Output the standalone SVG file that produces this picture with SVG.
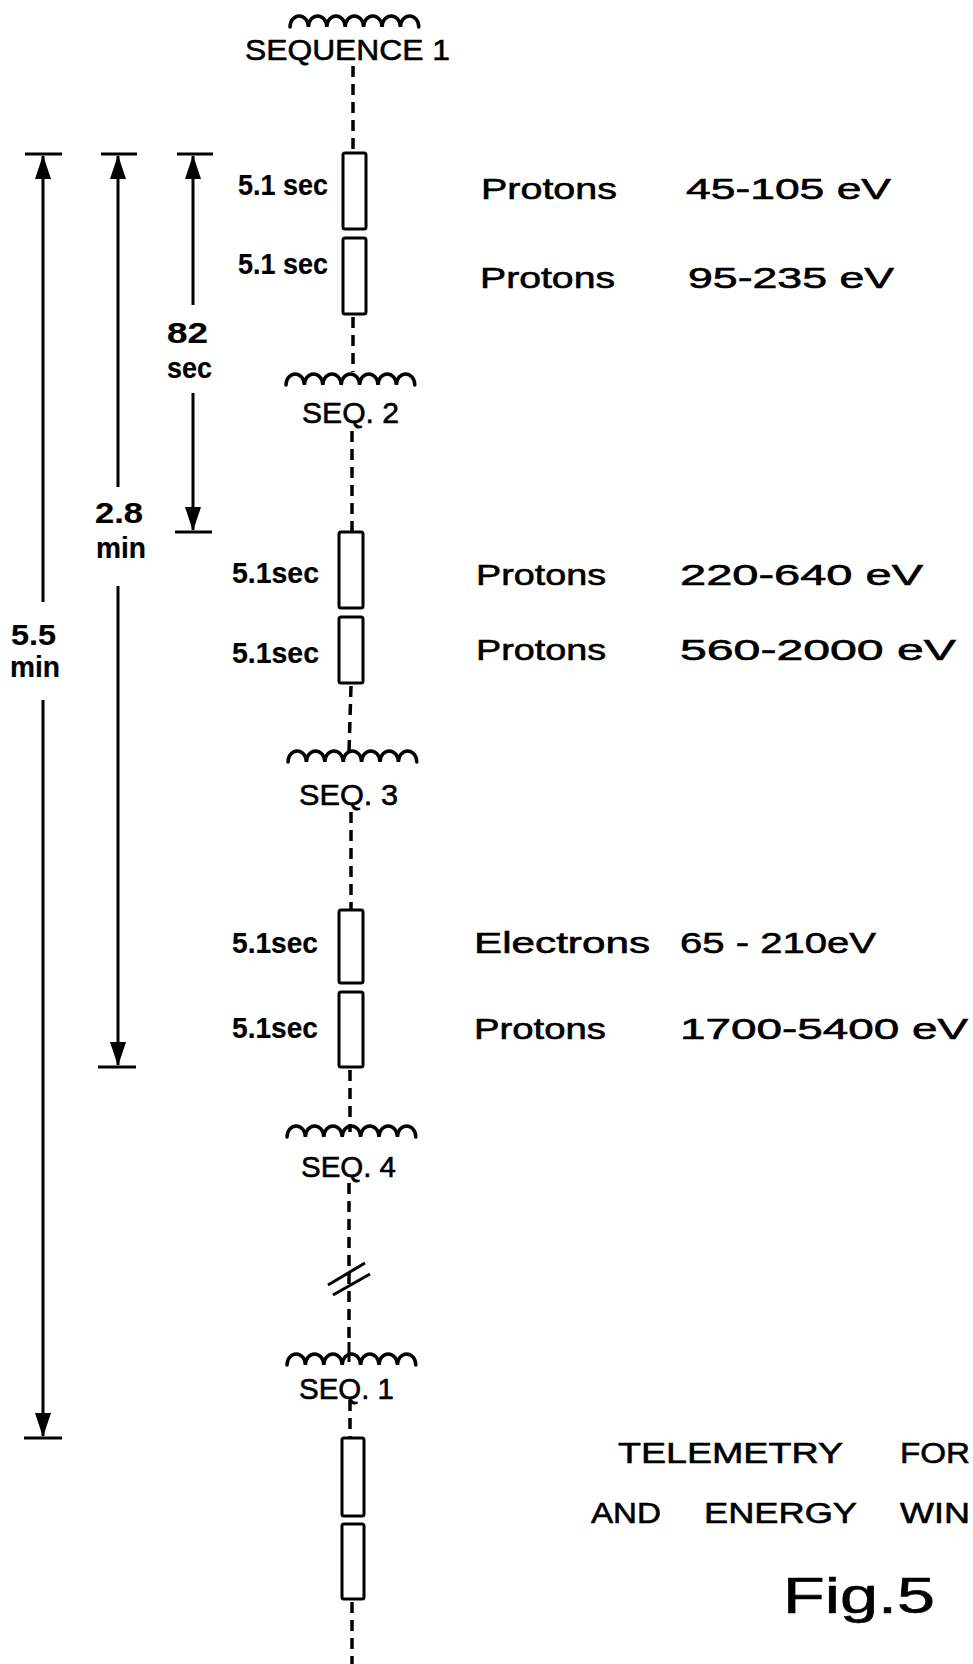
<svg xmlns="http://www.w3.org/2000/svg" width="973" height="1664" viewBox="0 0 973 1664">
<style>
text{font-family:"Liberation Sans",Arial,sans-serif;fill:#000;stroke:#000;stroke-width:0.6}
.t{font-size:30px}
.lb{font-size:29px;font-weight:bold;stroke-width:0.2}
.fig{font-size:50px;stroke-width:0.6}
.dash{stroke:#000;stroke-width:3.5;stroke-dasharray:11 7;fill:none}
.ln{stroke:#000;stroke-width:3;fill:none}
.box{fill:#fff;stroke:#000;stroke-width:3}
.wave{fill:none;stroke:#000;stroke-width:3.5;stroke-linecap:round}
.ah{fill:#000;stroke:none}
</style>
<rect width="973" height="1664" fill="#fff"/>

<g id="connectors">
  <path class="dash" d="M353,66V152"/>
  <path class="dash" d="M353,317V372"/>
  <path class="dash" d="M352,431V531"/>
  <path class="dash" d="M351,686L349,752"/>
  <path class="dash" d="M351,812V909"/>
  <path class="dash" d="M350,1070V1132"/>
  <path class="dash" d="M349,1183V1345"/>
  <path class="ln" d="M349,1342V1362"/>
  <path class="dash" d="M350,1400V1437"/>
  <path class="dash" d="M352,1602V1664"/>
  <g id="break">
    <path class="ln" d="M328,1285L365,1263"/>
    <path class="ln" d="M333,1295L370,1274"/>
  </g>
  <g id="dim-5-5min">
    <path class="ln" d="M25,154H62M43,156V602M43,700V1436M24,1438H62"/>
    <polygon class="ah" points="43,155 35,179 51,179"/>
    <polygon class="ah" points="43,1437 35,1413 51,1413"/>
  </g>
  <g id="dim-2-8min">
    <path class="ln" d="M101,154H137M118,156V487M118,586V1065M98,1067H136"/>
    <polygon class="ah" points="118,155 110,179 126,179"/>
    <polygon class="ah" points="118,1066 110,1042 126,1042"/>
  </g>
  <g id="dim-82sec">
    <path class="ln" d="M177,154H213M193,156V305M193,393V530M175,532H212"/>
    <polygon class="ah" points="193,155 185,179 201,179"/>
    <polygon class="ah" points="193,531 185,507 201,507"/>
  </g>
</g>

<g id="seq1-top">
  <path class="wave" d="M290,27a9.2,11 0 0 1 18.4,0a9.2,11 0 0 1 18.4,0a9.2,11 0 0 1 18.4,0a9.2,11 0 0 1 18.4,0a9.2,11 0 0 1 18.4,0a9.2,11 0 0 1 18.4,0a9.2,11 0 0 1 18.4,0"/>
  <text class="t" x="245" y="60" textLength="205" lengthAdjust="spacingAndGlyphs">SEQUENCE  1</text>
</g>
<g id="seq2">
  <path class="wave" d="M286,385a9.2,11 0 0 1 18.4,0a9.2,11 0 0 1 18.4,0a9.2,11 0 0 1 18.4,0a9.2,11 0 0 1 18.4,0a9.2,11 0 0 1 18.4,0a9.2,11 0 0 1 18.4,0a9.2,11 0 0 1 18.4,0"/>
  <text class="t" x="302" y="423" textLength="97" lengthAdjust="spacingAndGlyphs">SEQ. 2</text>
</g>
<g id="seq3">
  <path class="wave" d="M288,762a9.2,11 0 0 1 18.4,0a9.2,11 0 0 1 18.4,0a9.2,11 0 0 1 18.4,0a9.2,11 0 0 1 18.4,0a9.2,11 0 0 1 18.4,0a9.2,11 0 0 1 18.4,0a9.2,11 0 0 1 18.4,0"/>
  <text class="t" x="299" y="805" textLength="99" lengthAdjust="spacingAndGlyphs">SEQ. 3</text>
</g>
<g id="seq4">
  <path class="wave" d="M287,1137a9.2,11 0 0 1 18.4,0a9.2,11 0 0 1 18.4,0a9.2,11 0 0 1 18.4,0a9.2,11 0 0 1 18.4,0a9.2,11 0 0 1 18.4,0a9.2,11 0 0 1 18.4,0a9.2,11 0 0 1 18.4,0"/>
  <text class="t" x="301" y="1177" textLength="95" lengthAdjust="spacingAndGlyphs">SEQ. 4</text>
</g>
<g id="seq1-bottom">
  <path class="wave" d="M287,1365a9.2,11 0 0 1 18.4,0a9.2,11 0 0 1 18.4,0a9.2,11 0 0 1 18.4,0a9.2,11 0 0 1 18.4,0a9.2,11 0 0 1 18.4,0a9.2,11 0 0 1 18.4,0a9.2,11 0 0 1 18.4,0"/>
  <text class="t" x="299" y="1399" textLength="95" lengthAdjust="spacingAndGlyphs">SEQ. 1</text>
</g>

<g id="slot1">
  <rect class="box" x="343" y="153" width="23" height="76" rx="2"/>
  <text class="lb" x="238" y="195" textLength="90" lengthAdjust="spacingAndGlyphs">5.1 sec</text>
  <text class="t" x="481" y="199" textLength="136" lengthAdjust="spacingAndGlyphs">Protons</text>
  <text class="t" x="686" y="199" textLength="205" lengthAdjust="spacingAndGlyphs">45-105 eV</text>
</g>
<g id="slot2">
  <rect class="box" x="343" y="238" width="23" height="76" rx="2"/>
  <text class="lb" x="238" y="274" textLength="90" lengthAdjust="spacingAndGlyphs">5.1 sec</text>
  <text class="t" x="480" y="288" textLength="135" lengthAdjust="spacingAndGlyphs">Protons</text>
  <text class="t" x="688" y="288" textLength="206" lengthAdjust="spacingAndGlyphs">95-235 eV</text>
</g>
<g id="slot3">
  <rect class="box" x="339" y="532" width="24" height="76" rx="2"/>
  <text class="lb" x="232" y="583" textLength="87" lengthAdjust="spacingAndGlyphs">5.1sec</text>
  <text class="t" x="476" y="585" textLength="130" lengthAdjust="spacingAndGlyphs">Protons</text>
  <text class="t" x="680" y="585" textLength="243" lengthAdjust="spacingAndGlyphs">220-640 eV</text>
</g>
<g id="slot4">
  <rect class="box" x="339" y="617" width="24" height="66" rx="2"/>
  <text class="lb" x="232" y="663" textLength="87" lengthAdjust="spacingAndGlyphs">5.1sec</text>
  <text class="t" x="476" y="660" textLength="130" lengthAdjust="spacingAndGlyphs">Protons</text>
  <text class="t" x="680" y="660" textLength="276" lengthAdjust="spacingAndGlyphs">560-2000 eV</text>
</g>
<g id="slot5">
  <rect class="box" x="339" y="910" width="24" height="73" rx="2"/>
  <text class="lb" x="232" y="953" textLength="86" lengthAdjust="spacingAndGlyphs">5.1sec</text>
  <text class="t" x="474" y="953" textLength="176" lengthAdjust="spacingAndGlyphs">Electrons</text>
  <text class="t" x="680" y="953" textLength="196" lengthAdjust="spacingAndGlyphs">65 - 210eV</text>
</g>
<g id="slot6">
  <rect class="box" x="339" y="992" width="24" height="75" rx="2"/>
  <text class="lb" x="232" y="1038" textLength="86" lengthAdjust="spacingAndGlyphs">5.1sec</text>
  <text class="t" x="474" y="1039" textLength="132" lengthAdjust="spacingAndGlyphs">Protons</text>
  <text class="t" x="680" y="1039" textLength="288" lengthAdjust="spacingAndGlyphs">1700-5400 eV</text>
</g>
<g id="slot7">
  <rect class="box" x="342" y="1438" width="22" height="78" rx="2"/>
</g>
<g id="slot8">
  <rect class="box" x="342" y="1524" width="22" height="75" rx="2"/>
</g>

<g id="label-82sec">
  <text class="lb" x="167" y="343" textLength="41" lengthAdjust="spacingAndGlyphs">82</text>
  <text class="lb" x="167" y="378" textLength="45" lengthAdjust="spacingAndGlyphs">sec</text>
</g>
<g id="label-2-8min">
  <text class="lb" x="95" y="523" textLength="48" lengthAdjust="spacingAndGlyphs">2.8</text>
  <text class="lb" x="96" y="558" textLength="50" lengthAdjust="spacingAndGlyphs">min</text>
</g>
<g id="label-5-5min">
  <text class="lb" x="11" y="645" textLength="45" lengthAdjust="spacingAndGlyphs">5.5</text>
  <text class="lb" x="10" y="677" textLength="50" lengthAdjust="spacingAndGlyphs">min</text>
</g>

<g id="caption">
  <text class="t" x="618" y="1463" textLength="225" lengthAdjust="spacingAndGlyphs">TELEMETRY</text>
  <text class="t" x="900" y="1463" textLength="70" lengthAdjust="spacingAndGlyphs">FOR</text>
  <text class="t" x="591" y="1523" textLength="70" lengthAdjust="spacingAndGlyphs">AND</text>
  <text class="t" x="704" y="1523" textLength="153" lengthAdjust="spacingAndGlyphs">ENERGY</text>
  <text class="t" x="900" y="1523" textLength="70" lengthAdjust="spacingAndGlyphs">WIN</text>
  <text class="fig" x="783" y="1613" textLength="152" lengthAdjust="spacingAndGlyphs">Fig.5</text>
</g>
</svg>
